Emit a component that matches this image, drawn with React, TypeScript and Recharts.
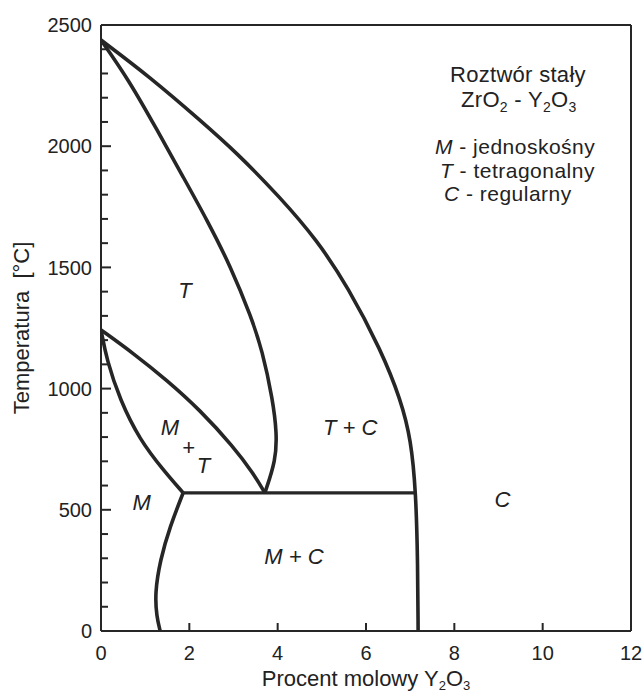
import React from 'react';
import { LineChart, Line, XAxis, YAxis, ReferenceLine, ReferenceDot } from 'recharts';

const FONT = '"Liberation Sans", Arial, Helvetica, sans-serif';
const INK = '#262626';

const xTicks = [0, 2, 4, 6, 8, 10, 12];
const yTicks = [
  0, 100, 200, 300, 400, 500, 600, 700, 800, 900, 1000, 1100, 1200,
  1300, 1400, 1500, 1600, 1700, 1800, 1900, 2000, 2100, 2200, 2300, 2400, 2500,
];

// T / T+C boundary
const tSolvus = [
  { x: 0, y: 2438 }, { x: 0.63, y: 2273 }, { x: 1.27, y: 2067 }, { x: 1.86, y: 1873 },
  { x: 2.4, y: 1696 }, { x: 2.94, y: 1502 }, { x: 3.4, y: 1295 }, { x: 3.65, y: 1159 },
  { x: 3.89, y: 953 }, { x: 3.98, y: 817 }, { x: 3.96, y: 705 }, { x: 3.71, y: 570 },
];

// T+C / C and M+C / C boundary
const cSolvus = [
  { x: 0, y: 2438 }, { x: 1.11, y: 2285 }, { x: 2.24, y: 2108 }, { x: 3.08, y: 1972 },
  { x: 4.05, y: 1790 }, { x: 4.89, y: 1613 }, { x: 5.59, y: 1419 }, { x: 6.34, y: 1159 },
  { x: 6.79, y: 953 }, { x: 7.02, y: 788 }, { x: 7.13, y: 570 }, { x: 7.17, y: 293 },
  { x: 7.18, y: 0 },
];

// T / M+T boundary
const mtUpper = [
  { x: 0, y: 1242 }, { x: 0.73, y: 1146 }, { x: 1.49, y: 1035 }, { x: 2.24, y: 912 },
  { x: 3.0, y: 760 }, { x: 3.45, y: 650 }, { x: 3.71, y: 570 },
];

// M / M+T boundary
const mtLower = [
  { x: 0, y: 1242 }, { x: 0.13, y: 1118 }, { x: 0.43, y: 953 }, { x: 0.88, y: 788 },
  { x: 1.41, y: 664 }, { x: 1.86, y: 570 },
];

// M / M+C boundary
const mcBoundary = [
  { x: 1.86, y: 570 }, { x: 1.56, y: 430 }, { x: 1.34, y: 293 }, { x: 1.22, y: 155 },
  { x: 1.26, y: 59 }, { x: 1.34, y: 0 },
];

const eutectoid = [{ x: 1.86, y: 570 }, { x: 7.13, y: 570 }];

const curvedLines = [tSolvus, cSolvus, mtUpper, mtLower, mcBoundary];

// region names (centre of text)
const regionLabels = [
  { x: 1.9, y: 1407, text: 'T' },
  { x: 1.56, y: 843, text: 'M' },
  { x: 1.98, y: 760, text: '+' },
  { x: 2.32, y: 685, text: 'T' },
  { x: 0.92, y: 533, text: 'M' },
  { x: 5.64, y: 843, text: 'T + C' },
  { x: 4.37, y: 310, text: 'M + C' },
  { x: 9.09, y: 545, text: 'C' },
];

// key of phase symbols
const keySymbols = ['M', 'T', 'C'];
const keyNames = [' - jednoskośny', ' - tetragonalny', ' - regularny'];
const keyIndent = [0, 5, 9];

const YTick = (props: any) => {
  const { x, y, payload } = props;
  const major = payload.value % 500 === 0;
  return (
    <g>
      <line x1={x} x2={x + (major ? 10 : 7)} y1={y} y2={y} stroke={INK} strokeWidth={2} />
      {major && (
        <text x={x - 9} y={y} dy="0.36em" textAnchor="end" fontFamily={FONT} fontSize={20} fill="#222">
          {payload.value}
        </text>
      )}
    </g>
  );
};

const XTick = (props: any) => {
  const { x, y, payload } = props;
  const inner = payload.value > 0 && payload.value < 12;
  return (
    <g>
      {inner && <line x1={x} x2={x} y1={y} y2={y - 8} stroke={INK} strokeWidth={2} />}
      <text x={x} y={y + 28.5} textAnchor="middle" fontFamily={FONT} fontSize={20} fill="#222">
        {payload.value}
      </text>
    </g>
  );
};

const App = () => {
  return (
    <div style={{ position: 'absolute', left: 0, top: 0, background: '#fff' }}>
      <LineChart width={642} height={695} margin={{ top: 25, right: 11, bottom: 0, left: 0 }}>
        <XAxis
          type="number"
          dataKey="x"
          domain={[0, 12]}
          ticks={xTicks}
          interval={0}
          allowDataOverflow
          height={64}
          tickSize={0}
          tickMargin={0}
          tickLine={false}
          axisLine={{ stroke: INK, strokeWidth: 2 }}
          tick={XTick}
          label={{
            content: (p: any) => {
              const vb = p.viewBox;
              return (
                <text x={vb.x + vb.width / 2} y={vb.y + 55} textAnchor="middle" fontFamily={FONT} fontSize={22} fill="#222">
                  Procent molowy Y
                  <tspan dy={4} fontSize={13}>2</tspan>
                  <tspan dy={-4}>O</tspan>
                  <tspan dy={4} fontSize={13}>3</tspan>
                </text>
              );
            },
          }}
        />
        <YAxis
          type="number"
          dataKey="y"
          domain={[0, 2500]}
          ticks={yTicks}
          interval={0}
          allowDataOverflow
          width={101}
          tickSize={0}
          tickMargin={0}
          tickLine={false}
          axisLine={{ stroke: INK, strokeWidth: 2 }}
          tick={YTick}
          label={{
            content: (p: any) => {
              const vb = p.viewBox;
              const cx = 29;
              const cy = vb.y + vb.height / 2;
              return (
                <text x={cx} y={cy} transform={`rotate(-90, ${cx}, ${cy})`} textAnchor="middle" fontFamily={FONT} fontSize={22} fill="#222" style={{ whiteSpace: 'pre' }}>
                  {'Temperatura  [°C]'}
                </text>
              );
            },
          }}
        />
        <ReferenceLine y={2500} stroke={INK} strokeWidth={2} />
        <ReferenceLine x={12} stroke={INK} strokeWidth={2} />
        {curvedLines.map((d, i) => (
          <Line
            key={i}
            data={d}
            dataKey="y"
            type="basis"
            stroke={INK}
            strokeWidth={3.6}
            strokeLinejoin="round"
            dot={false}
            activeDot={false}
            isAnimationActive={false}
          />
        ))}
        <Line
          data={eutectoid}
          dataKey="y"
          type="linear"
          stroke={INK}
          strokeWidth={3.4}
          dot={false}
          activeDot={false}
          isAnimationActive={false}
        />
        {regionLabels.map((l, i) => (
          <ReferenceDot
            key={'r' + i}
            x={l.x}
            y={l.y}
            r={0}
            ifOverflow="visible"
            shape={(p: any) => (
              <text x={p.cx} y={p.cy} dy="0.36em" textAnchor="middle" fontFamily={FONT} fontStyle="italic" fontSize={22} fill="#222" style={{ whiteSpace: 'pre' }}>
                {l.text}
              </text>
            )}
          />
        ))}
        <ReferenceDot
          x={9.44}
          y={2265}
          r={0}
          ifOverflow="visible"
          shape={(p: any) => (
            <text x={p.cx} y={p.cy} textAnchor="middle" fontFamily={FONT} fontSize={22} letterSpacing={0.3} fill="#222">
              Roztwór stały
            </text>
          )}
        />
        <ReferenceDot
          x={9.46}
          y={2163}
          r={0}
          ifOverflow="visible"
          shape={(p: any) => (
            <text x={p.cx} y={p.cy} textAnchor="middle" fontFamily={FONT} fontSize={22} letterSpacing={0.3} fill="#222">
              ZrO
              <tspan dy={5} fontSize={14}>2</tspan>
              <tspan dy={-5}>{' - Y'}</tspan>
              <tspan dy={5} fontSize={14}>2</tspan>
              <tspan dy={-5}>O</tspan>
              <tspan dy={5} fontSize={14}>3</tspan>
            </text>
          )}
        />
        <ReferenceDot
          x={7.56}
          y={1968}
          r={0}
          ifOverflow="visible"
          shape={(p: any) => (
            <text fontFamily={FONT} fontSize={21} letterSpacing={0.5} fill="#222" style={{ whiteSpace: 'pre' }}>
              {keySymbols.map((s, i) => (
                <tspan key={s} x={p.cx + keyIndent[i]} y={p.cy + i * 23.6}>
                  <tspan fontStyle="italic">{s}</tspan>
                  {keyNames[i]}
                </tspan>
              ))}
            </text>
          )}
        />
      </LineChart>
    </div>
  );
};

export default App;
